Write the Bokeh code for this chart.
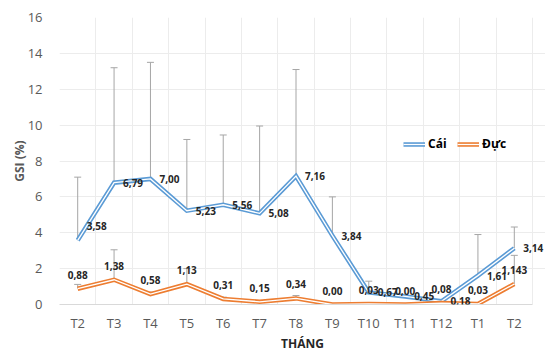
from bokeh.plotting import figure
from bokeh.models import (ColumnDataSource, FixedTicker, Whisker, TeeHead, Legend,
                          LegendItem, Range1d, LabelSet)
from bokeh.core.properties import value
from bokeh.embed import file_html
from bokeh.resources import INLINE

months = ["T2", "T3", "T4", "T5", "T6", "T7", "T8", "T9", "T10", "T11", "T12", "T1", "T2"]
female = [3.58, 6.79, 7.00, 5.23, 5.56, 5.08, 7.16, 3.84, 0.67, 0.45, 0.18, 1.61, 3.14]
male = [0.88, 1.38, 0.58, 1.13, 0.31, 0.15, 0.34, 0.00, 0.03, 0.00, 0.08, 0.03, 1.143]
female_err_top = [7.1, 13.2, 13.5, 9.2, 9.45, 9.95, 13.1, 6.0, 1.3, None, None, 3.9, 4.32]
male_err_top = [1.12, 3.05, 0.69, 2.0, 0.41, None, 0.5, None, None, None, None, None, 2.74]
female_labels = ["3,58", "6,79", "7,00", "5,23", "5,56", "5,08", "7,16", "3,84",
                 "0,67", "0,45", "0,18", "1,61", "3,14"]
male_labels = ["0,88", "1,38", "0,58", "1,13", "0,31", "0,15", "0,34", "0,00",
               "0,03", "0,00", "0,08", "0,03", "1,143"]
# label nudges (style only): first female label sits above-right of its point
female_label_dy = [14, 0, 0, 0, 0, 0, 0, 0, 0, 0, 0, 0, 0]

FONT = "Open Sans"
BLUE = "#5b9bd5"
ORANGE = "#ed7d31"
GRAY_TXT = "#595959"

n = len(months)
xs = [i + 0.5 for i in range(n)]

W, H = 545, 354
LEFT = 59
PLOT_W = 473  # width covering the 13 month cells
x_end = n * (W - LEFT) / PLOT_W  # frame runs to the canvas edge so the last label fits

p = figure(width=W, height=H, output_backend="svg", toolbar_location=None,
           x_range=Range1d(0, x_end), y_range=Range1d(0, 16))
p.min_border_left = LEFT
p.min_border_right = 0
p.min_border_top = 17
p.min_border_bottom = 50
p.outline_line_color = None
p.background_fill_color = "white"
p.border_fill_color = "white"

# axes
p.xaxis.ticker = FixedTicker(ticks=xs)
p.xaxis.major_label_overrides = {x: m for x, m in zip(xs, months)}
p.xaxis.bounds = (0, n)
p.yaxis.ticker = FixedTicker(ticks=list(range(0, 17, 2)))
for ax in (p.xaxis[0], p.yaxis[0]):
    ax.major_tick_line_color = None
    ax.minor_tick_line_color = None
    ax.major_label_text_font = FONT
    ax.major_label_text_font_size = "13px"
    ax.major_label_text_color = GRAY_TXT
    ax.axis_label_text_font = FONT
    ax.axis_label_text_font_style = "bold"
    ax.axis_label_text_font_size = "12px"
    ax.major_label_text_line_height = 1.0
    ax.axis_label_text_line_height = 1.0
p.yaxis.axis_line_color = None
p.xaxis.axis_line_color = "#d9d9d9"
p.xaxis.axis_label = "THÁNG"
p.xaxis.axis_label_text_color = "#262626"
p.xaxis.major_label_standoff = 3
p.xaxis.axis_label_standoff = 0
p.yaxis.axis_label = "GSI (%)"
p.yaxis.axis_label_text_color = GRAY_TXT
p.yaxis.major_label_standoff = 11
p.yaxis.axis_label_standoff = -3

p.xgrid.ticker = FixedTicker(ticks=list(range(0, n + 1)))
p.xgrid.grid_line_color = "#ececec"
p.ygrid.grid_line_color = "#ececec"

# error bars (plus direction)
def err_source(vals, tops):
    x, lo, hi = [], [], []
    for xi, v, t in zip(xs, vals, tops):
        if t is not None:
            x.append(xi); lo.append(v); hi.append(t)
    return ColumnDataSource(dict(x=x, lower=lo, upper=hi))

for vals, tops in ((female, female_err_top), (male, male_err_top)):
    src = err_source(vals, tops)
    w = Whisker(source=src, base="x", lower="lower", upper="upper",
                line_color="#a6a6a6", line_width=1,
                upper_head=TeeHead(size=7, line_color="#a6a6a6", line_width=1),
                lower_head=None)
    p.add_layout(w)

# double lines
fsrc = ColumnDataSource(dict(x=xs, y=female, lab=female_labels, dy=female_label_dy))
msrc = ColumnDataSource(dict(x=xs, y=male, lab=male_labels))
f_outer = p.line("x", "y", source=fsrc, line_color=BLUE, line_width=4.5, line_join="miter")
f_inner = p.line("x", "y", source=fsrc, line_color="white", line_width=1.3, line_join="miter")
m_outer = p.line("x", "y", source=msrc, line_color=ORANGE, line_width=4.5, line_join="miter")
m_inner = p.line("x", "y", source=msrc, line_color="white", line_width=1.3, line_join="miter")

# data labels
fl = LabelSet(x="x", y="y", text="lab", source=fsrc, x_offset=9, y_offset="dy",
              text_font=value(FONT), text_font_size="10px", text_font_style="bold",
              text_color="#262626", text_baseline="middle", text_align="left")
ml = LabelSet(x="x", y="y", text="lab", source=msrc, x_offset=0, y_offset=10,
              text_font=value(FONT), text_font_size="10px", text_font_style="bold",
              text_color="#262626", text_baseline="bottom", text_align="center")
p.add_layout(fl)
p.add_layout(ml)

legend = Legend(items=[LegendItem(label="Cái", renderers=[f_outer, f_inner]),
                       LegendItem(label="Đực", renderers=[m_outer, m_inner])],
                orientation="horizontal", location=(344, 152),
                label_text_font=FONT, label_text_font_size="12px",
                label_text_font_style="bold", label_text_color="#000000",
                glyph_width=22, glyph_height=14, spacing=9, padding=0, margin=0,
                label_standoff=3, border_line_color=None, background_fill_alpha=0)
p.add_layout(legend)

open("out.html", "w").write(file_html(p, INLINE))
